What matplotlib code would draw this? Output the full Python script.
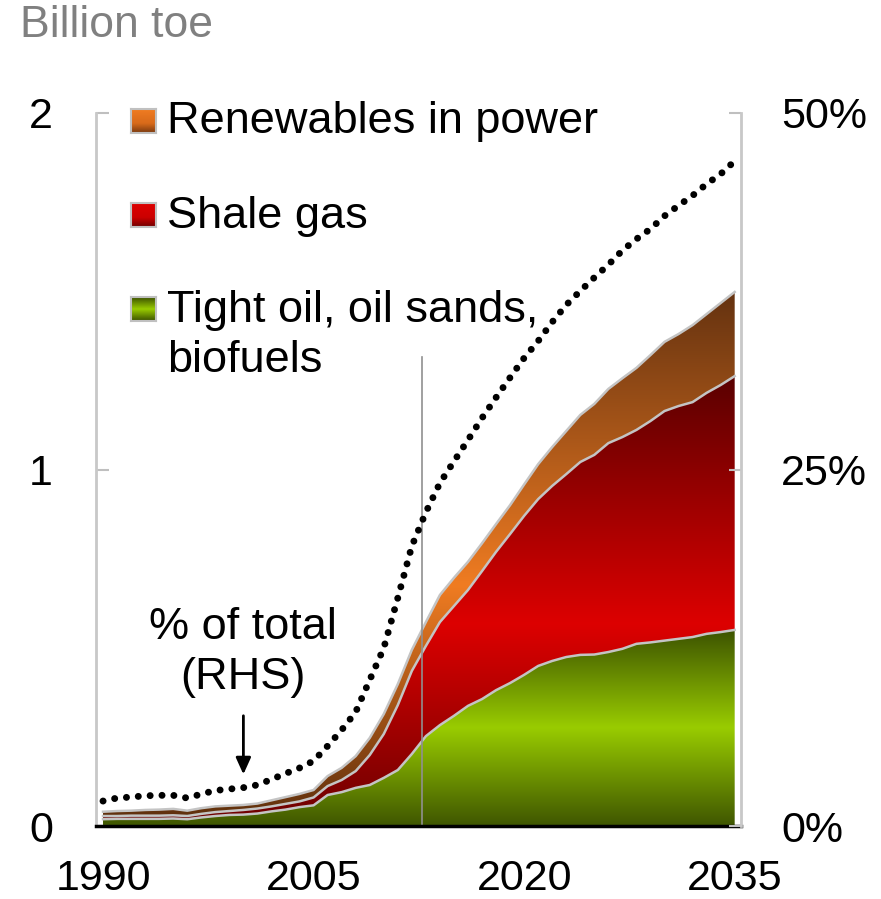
import numpy as np
import matplotlib
matplotlib.use("Agg")
import matplotlib.pyplot as plt
from matplotlib.colors import LinearSegmentedColormap
from matplotlib.ticker import FuncFormatter

years = list(range(1990, 2036))
tight_oil = [0.019, 0.020, 0.020, 0.020, 0.020, 0.021, 0.019, 0.024, 0.028, 0.031,
             0.032, 0.035, 0.041, 0.046, 0.053, 0.058, 0.087, 0.095, 0.107, 0.115,
             0.135, 0.157, 0.202, 0.252, 0.283, 0.309, 0.337, 0.356, 0.381, 0.401,
             0.424, 0.449, 0.463, 0.474, 0.480, 0.481, 0.488, 0.497, 0.511, 0.515,
             0.520, 0.525, 0.530, 0.539, 0.544, 0.550]
shale_gas = [0.009, 0.008, 0.009, 0.009, 0.009, 0.009, 0.009, 0.010, 0.011, 0.011,
             0.013, 0.014, 0.014, 0.016, 0.016, 0.022, 0.025, 0.034, 0.047, 0.084,
             0.123, 0.182, 0.233, 0.253, 0.289, 0.308, 0.325, 0.359, 0.388, 0.418,
             0.446, 0.468, 0.491, 0.513, 0.541, 0.560, 0.586, 0.594, 0.600, 0.621,
             0.644, 0.653, 0.659, 0.676, 0.693, 0.712]
renewables = [0.012, 0.014, 0.014, 0.016, 0.017, 0.018, 0.015, 0.016, 0.016, 0.015,
              0.014, 0.014, 0.017, 0.019, 0.021, 0.021, 0.028, 0.034, 0.042, 0.048,
              0.056, 0.059, 0.059, 0.067, 0.076, 0.079, 0.079, 0.078, 0.078, 0.081,
              0.088, 0.098, 0.109, 0.121, 0.132, 0.143, 0.152, 0.165, 0.174, 0.185,
              0.194, 0.202, 0.216, 0.221, 0.230, 0.236]
share_pct = [1.75, 1.96, 2.03, 2.12, 2.15, 2.15, 1.96, 2.24, 2.49, 2.59,
             2.69, 2.88, 3.27, 3.68, 4.07, 4.56, 5.61, 6.73, 7.99, 10.24,
             12.48, 15.99, 19.63, 22.0, 24.05, 25.57, 27.07, 28.61, 30.05, 31.45,
             32.82, 34.01, 35.34, 36.54, 37.52, 38.46, 39.36, 40.36, 41.16, 41.87,
             42.78, 43.51, 44.21, 45.02, 45.72, 46.63]
series_names = ["Renewables in power", "Shale gas", "Tight oil, oil sands,\nbiofuels"]
left_ticks = [0, 1, 2]
right_ticks = [0, 25, 50]
x_ticks = [1990, 2005, 2020, 2035]
history_end = 2012.7

W, H = 881, 899
fig = plt.figure(figsize=(W / 100, H / 100), dpi=100)
ax = fig.add_axes([96 / W, 1 - 826 / H, (741 - 96) / W, (826 - 113) / H])

x = np.array(years, dtype=float)
g = np.array(tight_oil)
s = g + np.array(shale_gas)
t = s + np.array(renewables)
x0, x1 = 1989.5, 2035.45

def grad_fill(lower, upper, stops, ytop, z):
    coll = ax.fill_between(x, lower, upper, facecolor="none", edgecolor="none", zorder=z)
    cmap = LinearSegmentedColormap.from_list("c", stops)
    arr = np.linspace(0, 1, 256).reshape(-1, 1)
    im = ax.imshow(arr, cmap=cmap, aspect="auto", extent=[x0, x1, 0, ytop],
                   origin="upper", zorder=z, interpolation="bilinear")
    im.set_clip_path(coll.get_paths()[0], transform=ax.transData)

grad_fill(np.zeros_like(g), g, [(0, "#3c5200"), (0.5, "#99cc00"), (1, "#3f5600")], g.max(), 1)
grad_fill(g, s, [(0, "#5a0000"), (0.55, "#dd0000"), (1, "#6a0000")], s.max(), 2)
grad_fill(s, t, [(0, "#643210"), (0.55, "#f07c22"), (1, "#5a2d0c")], t.max(), 3)

edge = "#c4c4c4"
for arr_ in (g, s, t):
    ax.plot(x, arr_, color=edge, lw=1.8, zorder=4)

ax.plot([history_end, history_end], [0, 1.316], color="#909090", lw=1.2, zorder=5)

ax.set_xlim(x0, x1)
ax.set_ylim(0, 2)
ax.set_yticks(left_ticks)
ax.set_yticklabels([str(v) for v in left_ticks])
ax.set_xticks(x_ticks)
ax.set_xticklabels([str(v) for v in x_ticks])

tick_family = ["Liberation Sans", "DejaVu Sans"]
tick_size = 31
for lab in ax.get_yticklabels() + ax.get_xticklabels():
    lab.set_fontfamily(tick_family)
    lab.set_fontsize(tick_size)

ax.tick_params(axis="y", direction="in", length=9, width=1.5, color="#bfbfbf", pad=31)
ax.tick_params(axis="x", length=0, pad=24)
ax.spines["top"].set_visible(False)
ax.spines["left"].set_color("#c8c8c8")
ax.spines["left"].set_linewidth(2)
ax.spines["right"].set_visible(False)
ax.spines["bottom"].set_color("black")
ax.spines["bottom"].set_linewidth(2.5)
ax.spines["bottom"].set_zorder(6)

ax2 = ax.twinx()
ax2.set_ylim(0, 50)
ax2.set_yticks(right_ticks)
ax2.yaxis.set_major_formatter(FuncFormatter(lambda v, p: f"{int(v)}%"))
for lab in ax2.get_yticklabels():
    lab.set_fontfamily(tick_family)
    lab.set_fontsize(tick_size)
ax2.tick_params(axis="y", direction="in", length=9, width=1.5, color="#bfbfbf", pad=29)
for sp in ("top", "left", "bottom"):
    ax2.spines[sp].set_visible(False)
ax2.spines["right"].set_color("#c8c8c8")
ax2.spines["right"].set_linewidth(2)
ax2.plot(x, share_pct, color="black", lw=5, linestyle=(0, (0.01, 1.7)),
         dash_capstyle="round", zorder=7)

txt_font = ["Liberation Sans", "DejaVu Sans"]
fs = 32.5
fig.text(20 / W, 1 - 37 / H, "Billion toe", color="#808080", fontsize=32,
         family=txt_font, va="baseline", ha="left")

marker_stops = [
    [(0, "#f07c22"), (0.6, "#d86a1a"), (1, "#7a3a10")],
    [(0, "#dd0000"), (0.6, "#cc0000"), (1, "#700000")],
    [(0, "#3c5200"), (0.5, "#99cc00"), (1, "#3c5200")],
]
marker_cy = [121, 215, 309]
baselines = [133, 228, 322]
line_step = 50
for name, stops, cy, bl in zip(series_names, marker_stops, marker_cy, baselines):
    mx = fig.add_axes([131 / W, 1 - (cy + 12) / H, 25 / W, 24 / H])
    mx.imshow(np.linspace(0, 1, 64).reshape(-1, 1),
              cmap=LinearSegmentedColormap.from_list("m", stops), aspect="auto")
    mx.set_xticks([]); mx.set_yticks([])
    for sp in mx.spines.values():
        sp.set_color("#c0c0c0"); sp.set_linewidth(1.5)
    for i, line in enumerate(name.split("\n")):
        fig.text(167 / W, 1 - (bl + i * line_step) / H, line, fontsize=fs,
                 family=txt_font, va="baseline", ha="left")

ann_lines = ["% of total", "(RHS)"]
for i, line in enumerate(ann_lines):
    fig.text(243 / W, 1 - (639 + i * 50) / H, line, fontsize=fs, family=txt_font,
             ha="center", va="baseline")
ax.annotate("", xy=(2000, 0.137), xytext=(2000, 0.317),
            arrowprops=dict(arrowstyle="-|>,head_length=1.0,head_width=0.45",
                            color="black", lw=2), zorder=8)

fig.savefig("out.png", dpi=100)
